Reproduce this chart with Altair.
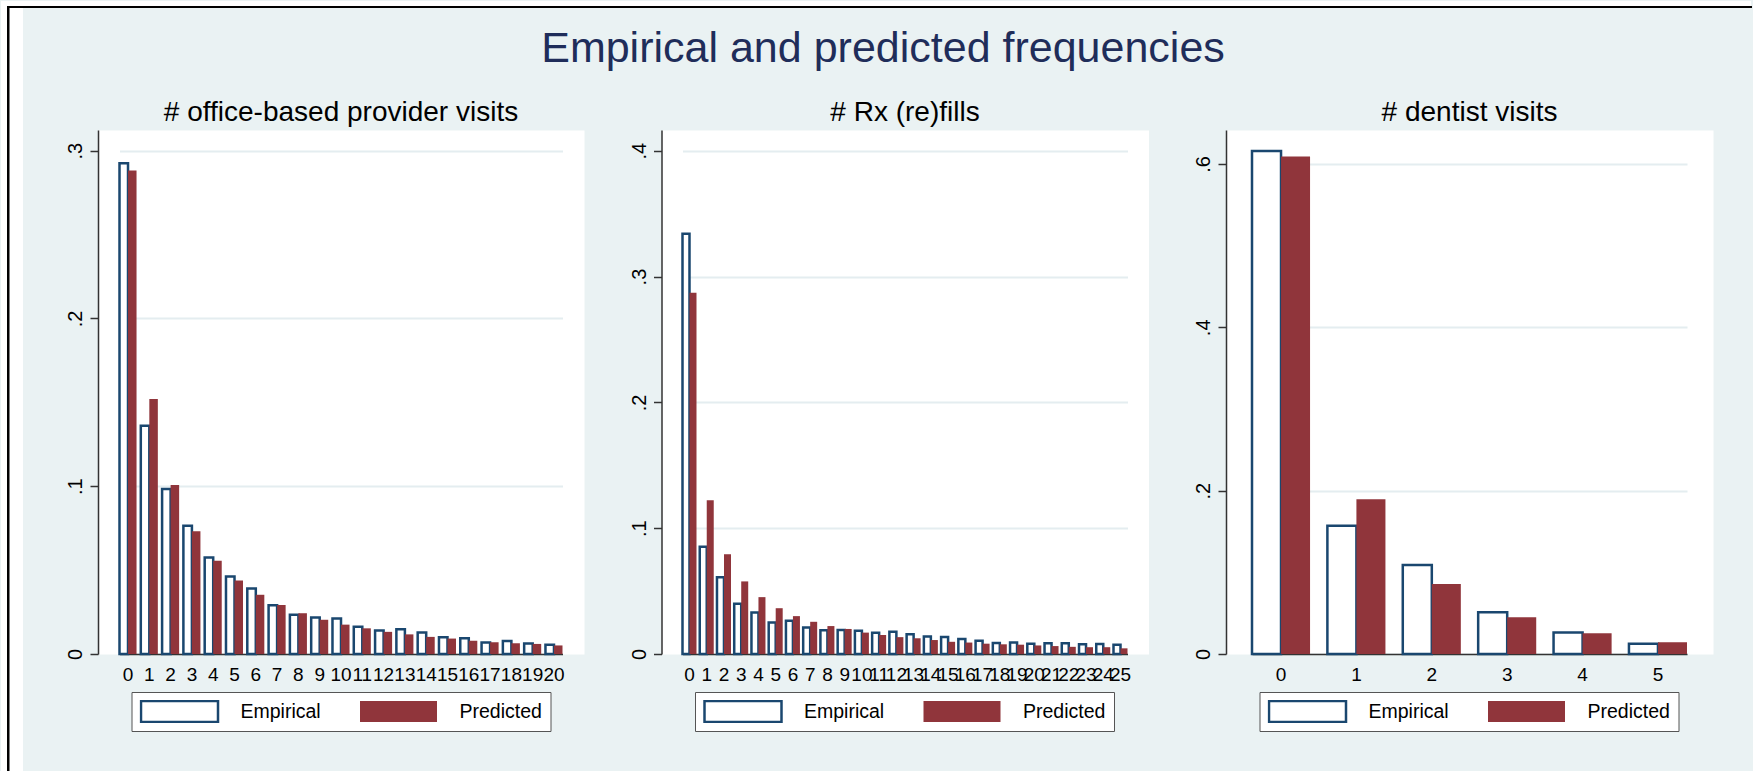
import altair as alt
import pandas as pd

FONT = "Liberation Sans"
SERIES = ["Empirical", "Predicted"]
NAVY = "#1A476F"
MAROON = "#90353B"
BG = "#EAF2F3"

# Frequencies by count value, empirical vs. model-predicted
office_counts = list(range(21))
office_empirical = [0.2925, 0.136, 0.0983, 0.0764, 0.0575, 0.0462, 0.039, 0.029, 0.0234, 0.0217,
                    0.0211, 0.0162, 0.014, 0.0147, 0.0128, 0.010, 0.0094, 0.0068, 0.0077, 0.0062, 0.0055]
office_predicted = [0.2882, 0.152, 0.1007, 0.0732, 0.0556, 0.0438, 0.0353, 0.0292, 0.0243, 0.0204,
                    0.0175, 0.0153, 0.0132, 0.0117, 0.0102, 0.0092, 0.0079, 0.007, 0.0064, 0.006, 0.0051]

rx_counts = list(range(26))
rx_empirical = [0.334, 0.0852, 0.0611, 0.040, 0.033, 0.025, 0.0264, 0.021, 0.0188, 0.019,
                0.0185, 0.0168, 0.0176, 0.0156, 0.0139, 0.0136, 0.0119, 0.0105, 0.0088, 0.0091,
                0.0082, 0.0085, 0.0085, 0.0077, 0.008, 0.0074]
rx_predicted = [0.2872, 0.1222, 0.0793, 0.0577, 0.0452, 0.0364, 0.0301, 0.0256, 0.0222, 0.0199,
                0.017, 0.0151, 0.0134, 0.0125, 0.0111, 0.0097, 0.0091, 0.0082, 0.0077, 0.0074,
                0.0068, 0.0063, 0.0057, 0.0054, 0.0054, 0.0045]

dentist_counts = list(range(6))
dentist_empirical = [0.616, 0.157, 0.109, 0.0512, 0.0263, 0.0127]
dentist_predicted = [0.609, 0.1895, 0.0858, 0.0451, 0.0254, 0.0144]

PLOT_H = 524
LEGEND_PATH = "M-1,-0.2727H1V0.2727H-1Z"


def long_table(counts, emp, pred):
    rows = []
    for c, e, p in zip(counts, emp, pred):
        rows.append({"count": c, "series": "Empirical", "freq": e})
        rows.append({"count": c, "series": "Predicted", "freq": p})
    return pd.DataFrame(rows)


def make_legend(x):
    return alt.Legend(
        title=None, orient="none", legendX=x, legendY=562,
        direction="horizontal", columns=2,
        symbolType=LEGEND_PATH, symbolSize=5929, symbolStrokeWidth=2.5,
        clipHeight=23, labelFont=FONT, labelFontSize=19.5, labelColor="black",
        labelOffset=21, columnPadding=37, padding=8,
        strokeColor="#555555", fillColor="white",
    )


def panel(title, counts, emp, pred, ymax, yticks, pad_inner, band_range, width,
          legend_x, title_dy=0, under=None):
    df = long_table(counts, emp, pred)
    legend = make_legend(legend_x)
    bars = alt.Chart(df).mark_bar(strokeWidth=2.5).encode(
        x=alt.X(
            "count:O",
            scale=alt.Scale(paddingInner=pad_inner, paddingOuter=0, range=band_range),
            axis=alt.Axis(
                title=None, labelAngle=0, ticks=False, tickSize=0, labelPadding=11.5,
                labelOverlap=False, labelFont=FONT, labelFontSize=19, labelColor="black",
                domainColor="#333333", domainWidth=1.5, grid=False,
            ),
        ),
        xOffset=alt.XOffset("series:N", scale=alt.Scale(domain=SERIES, paddingInner=0, paddingOuter=0)),
        y=alt.Y(
            "freq:Q",
            scale=alt.Scale(domain=[0, ymax], nice=False, zero=True),
            axis=alt.Axis(
                title=None, values=yticks,
                labelExpr="datum.value == 0 ? '0' : replace(format(datum.value, '.1f'), '0.', '.')",
                labelAngle=270, labelAlign="center", labelBaseline="alphabetic",
                labelPadding=8.5, labelFont=FONT, labelFontSize=20, labelColor="black",
                tickSize=8, tickWidth=1.5, tickColor="#333333",
                domainColor="#333333", domainWidth=1.5,
                grid=True, gridColor="#E4EDF0", gridWidth=2,
            ),
        ),
        fill=alt.Fill("series:N", scale=alt.Scale(domain=SERIES, range=["#FFFFFF", MAROON]), legend=legend),
        stroke=alt.Stroke("series:N", scale=alt.Scale(domain=SERIES, range=[NAVY, "transparent"]), legend=legend),
    )
    layers = (under or []) + [bars]
    return alt.layer(*layers).properties(
        width=width, height=PLOT_H,
        title=alt.Title(
            title, font=FONT, fontSize=28, fontWeight="normal", color="black",
            baseline="alphabetic", anchor="middle", frame="group", offset=8, dy=title_dy,
        ),
    )


# Outer frame of the figure: white margin on the left and top, thin black edges
frame_data = alt.Data(values=[{"k": 0}])


def frame_rect(color, x, x2, y, y2):
    return alt.Chart(frame_data).mark_rect(color=color).encode(
        x=alt.value(x), x2=alt.value(x2), y=alt.value(y), y2=alt.value(y2)
    )


frame = [
    frame_rect("white", -97, -75, -129, 642),
    frame_rect("white", -97, 1653, -129, -124),
    frame_rect("black", -91, -88.5, -124, 642),
    frame_rect("black", -91, 1654, -124, -122),
]

p1 = panel("# office-based provider visits", office_counts, office_empirical, office_predicted,
           0.3123, [0, 0.1, 0.2, 0.3], 0.2, [21.5, 464.5], 486, 33.5, title_dy=156, under=frame)
p2 = panel("# Rx (re)fills", rx_counts, rx_empirical, rx_predicted,
           0.4165, [0, 0.1, 0.2, 0.3, 0.4], 0.188, [21, 466], 487, 33.5, title_dy=27)
p3 = panel("# dentist visits", dentist_counts, dentist_empirical, dentist_predicted,
           0.6416, [0, 0.2, 0.4, 0.6], 0.23, [26, 461], 487, 33.5, title_dy=27)

chart = alt.hconcat(p1, p2, p3, spacing=77.5, bounds="flush").resolve_scale(
    fill="independent", stroke="independent", xOffset="independent"
).properties(
    title=alt.Title(
        "Empirical and predicted frequencies", font=FONT, fontSize=43, fontWeight="normal",
        color="#1F2D5A", anchor="middle", baseline="alphabetic", offset=0, dy=104, dx=6.5,
    ),
    background=BG,
    padding=0,
).configure_view(
    fill="white", stroke="transparent"
)

chart.save("out.html", embed_options={"renderer": "svg", "actions": False})
